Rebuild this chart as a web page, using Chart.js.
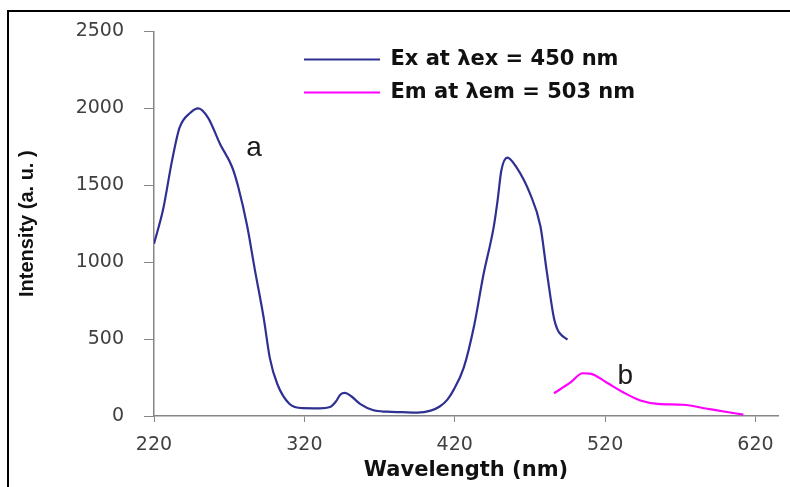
<!DOCTYPE html>
<html>
  <head>
    <script src="https://cdn.jsdelivr.net/npm/chart.js"></script>
    <style>
      body { margin: 0; background: #ffffff; }
    </style>
  </head>
  <body>
    <canvas id="spectra" width="790" height="487"></canvas>

    <script>
      // excitation spectrum (blue), monitored at 503 nm
      const exWavelength = [220, 226, 232, 237, 244, 249.5, 256, 264, 272, 276, 282, 287, 293, 297, 302, 310, 319, 330, 337, 341, 344, 347, 351, 357, 366, 375, 385, 395, 404, 410, 415, 419, 426, 433, 439, 446, 448.5, 451, 455, 461, 470, 477, 481, 486, 488, 490, 495];
      const exIntensity = [1120, 1340, 1660, 1874, 1970, 2000, 1938, 1767, 1617, 1490, 1233, 955, 635, 378, 208, 80, 51, 50, 58, 95, 140, 150, 130, 79, 37, 28, 25, 22, 35, 62, 105, 165, 314, 592, 913, 1233, 1400, 1596, 1680, 1618, 1447, 1233, 955, 635, 570, 536, 496];

      // emission spectrum (pink), excited at 450 nm
      const emWavelength = [486, 497, 505, 510, 521, 532, 543.5, 555, 572, 588, 601, 612];
      const emIntensity = [148, 218, 278, 276, 218, 154, 101, 79, 73, 47, 26, 9];

      const seriesLabels = ["Ex at λex = 450 nm", "Em at λem = 503 nm"];
      const xTickValues = [220, 320, 420, 520, 620];

      // "a" / "b" curve labels, in data units
      const noteText = ["a", "b"];
      const noteX = [286.6, 533.5];
      const noteY = [1690, 210];

      function toPoints(xs, ys) {
        return xs.map((x, i) => ({ x: x, y: ys[i] }));
      }

      // white page with the black frame on the left and top
      const framePlugin = {
        id: "frame",
        beforeDraw(chart) {
          const ctx = chart.ctx;
          ctx.save();
          ctx.fillStyle = "#ffffff";
          ctx.fillRect(0, 0, chart.width, chart.height);
          ctx.fillStyle = "#000000";
          ctx.fillRect(7, 10, 2, chart.height - 10);
          ctx.fillRect(7, 10, chart.width - 7, 2);
          ctx.restore();
        },
      };

      // put the legend block where it sits in the figure
      const legendSpot = {
        id: "legendSpot",
        afterLayout(chart) {
          const lg = chart.legend;
          const pad = lg.options.labels.padding;
          lg.left = 304 - pad;
          lg.top = 49 - pad;
          lg.right = chart.width;
          lg.bottom = 220;
        },
      };

      const notesPlugin = {
        id: "notes",
        afterDatasetsDraw(chart) {
          const ctx = chart.ctx;
          const xs = chart.scales.x;
          const ys = chart.scales.y;
          ctx.save();
          ctx.font = "28px 'Liberation Sans', Arial, sans-serif";
          ctx.fillStyle = "#1a1a1a";
          ctx.textAlign = "center";
          ctx.textBaseline = "alphabetic";
          for (let i = 0; i < noteText.length; i++) {
            ctx.fillText(noteText[i], xs.getPixelForValue(noteX[i]), ys.getPixelForValue(noteY[i]));
          }
          ctx.restore();
        },
      };

      const tickFont = { family: "'DejaVu Sans', Verdana, sans-serif", size: 19 };

      const ctx = document.getElementById("spectra").getContext("2d");
      window.myChart = new Chart(ctx, {
        type: "line",
        data: {
          datasets: [
            {
              label: seriesLabels[0],
              data: toPoints(exWavelength, exIntensity),
              borderColor: "#2e3192",
              borderWidth: 2.2,
              pointRadius: 0,
              cubicInterpolationMode: "monotone",
              fill: false,
            },
            {
              label: seriesLabels[1],
              data: toPoints(emWavelength, emIntensity),
              borderColor: "#ff00ff",
              borderWidth: 2.2,
              pointRadius: 0,
              cubicInterpolationMode: "monotone",
              fill: false,
            },
          ],
        },
        options: {
          responsive: false,
          animation: false,
          devicePixelRatio: 1,
          layout: {
            padding: { left: 11, top: 26, right: 12, bottom: 0 },
          },
          plugins: {
            legend: {
              position: "chartArea",
              align: "start",
              labels: {
                usePointStyle: true,
                pointStyle: "line",
                pointStyleWidth: 76,
                padding: 12,
                color: "#111111",
                font: { family: "'DejaVu Sans', Verdana, sans-serif", size: 21, weight: "bold" },
              },
            },
            tooltip: { enabled: false },
          },
          scales: {
            x: {
              type: "linear",
              min: 220,
              max: 635,
              afterBuildTicks(scale) {
                scale.ticks = xTickValues.map((v) => ({ value: v }));
              },
              afterFit(scale) {
                scale.height = 71;
              },
              border: { color: "#868686", width: 1.5 },
              grid: { drawOnChartArea: false, drawTicks: true, tickLength: 6, color: "#868686" },
              ticks: { color: "#404040", font: tickFont, padding: 12, maxRotation: 0 },
              title: {
                display: true,
                text: "Wavelength (nm)",
                color: "#111111",
                font: { family: "'DejaVu Sans', Verdana, sans-serif", size: 21, weight: "bold" },
                padding: { top: 4, bottom: 4 },
              },
            },
            y: {
              min: 0,
              max: 2500,
              ticks: {
                stepSize: 500,
                color: "#404040",
                font: tickFont,
                padding: 20,
                callback: (v) => String(v),
              },
              afterFit(scale) {
                scale.width = 143;
              },
              border: { color: "#868686", width: 1.5 },
              grid: { drawOnChartArea: false, drawTicks: true, tickLength: 10, color: "#868686" },
              title: {
                display: true,
                text: "Intensity (a. u. )",
                color: "#111111",
                font: { family: "'Liberation Sans Narrow', 'Arial Narrow', 'Liberation Sans', sans-serif", size: 20, weight: "bold" },
                padding: { top: 4, bottom: 4 },
              },
            },
          },
        },
        plugins: [framePlugin, legendSpot, notesPlugin],
      });
    </script>
  </body>
</html>
